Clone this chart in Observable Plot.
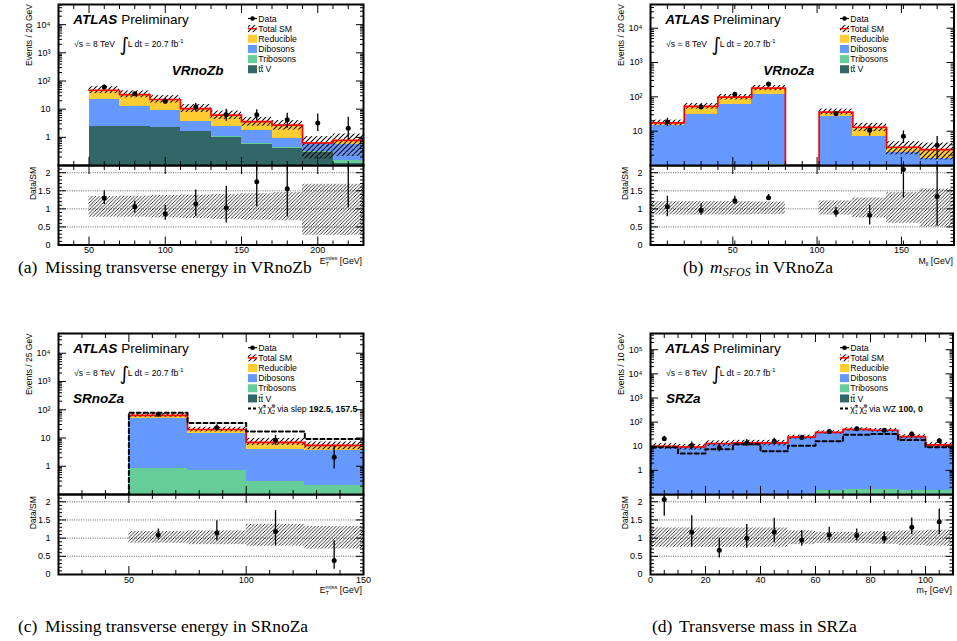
<!DOCTYPE html>
<html><head><meta charset="utf-8">
<script src="https://cdn.jsdelivr.net/npm/d3@7"></script>
<script src="https://cdn.jsdelivr.net/npm/@observablehq/plot@0.6"></script>
<style>
html,body{margin:0;padding:0;background:#fff;}
body{position:relative;width:957px;height:641px;overflow:hidden;font-family:"Liberation Sans",Arial,sans-serif;}
.pl{position:absolute;}
.pl svg{display:block;max-width:none;background:transparent;overflow:visible;}
</style></head>
<body>
<svg width="0" height="0" style="position:absolute;left:0;top:0">
<defs>
<pattern id="hatchMain" patternUnits="userSpaceOnUse" width="5" height="5"><path d="M-1,1 l2,-2 M0,5 l5,-5 M4,6 l2,-2" stroke="#000" stroke-width="1.05"/></pattern>
<pattern id="hatchRatio" patternUnits="userSpaceOnUse" width="3.5" height="3.5"><path d="M-1,1 l2,-2 M0,3.5 l3.5,-3.5 M2.5,4.5 l2,-2" stroke="#000" stroke-width="0.8"/></pattern>
</defs></svg>
<script>
// ---------------- shared ----------------
const sampleNames  = ["Reducible", "Dibosons", "Tribosons", "tt\u0304 V"];
const sampleColors = ["#ffcc33", "#6699ff", "#66cc99", "#336666"];
const ratioGrid = [0.5, 1, 1.5, 2];
const ratioMajor = [0, 0.5, 1, 1.5, 2];
const ratioLabels = [0, 0.5, 1, 1.5, 2];

// ---------------- (a) VRnoZb : ETmiss ----------------
const aEdges     = [50, 70, 90, 110, 130, 150, 170, 190, 210, 230];
const aTTV       = [2.4, 2.4, 2.2, 1.6, 1.0, 0.57, 0.4, 0.28, 0.12];
const aTribosons = [0.05, 0.05, 0.05, 0.05, 0.05, 0.05, 0.05, 0.03, 0.03];
const aDibosons  = [20.05, 10.35, 6.95, 2.05, 1.35, 1.08, 0.45, 0.27, 0.39];
const aReducible = [24.5, 20.2, 12.8, 6.8, 3.7, 1.9, 1.8, 0.05, 0.24];
const aData      = [61, 35, 19, 12, 6.3, 6.3, 4.2, 3.2, 2.1];
const aDataLo    = [52.6, 29, 15, 8.2, 3.7, 3.8, 2.1, 1.6, 0.8];
const aDataHi    = [70.5, 40, 24, 16, 9.9, 9.5, 7.2, 6.8, 5.2];
const aUncLo     = [0.77, 0.77, 0.75, 0.73, 0.71, 0.69, 0.67, 0.27, 0.27];
const aUncHi     = [1.34, 1.35, 1.37, 1.38, 1.40, 1.42, 1.45, 1.68, 1.68];
const aXMajor = [50, 100, 150, 200];
const aYLabels = [1, 10, 100, 1000, 10000];

// ---------------- (b) VRnoZa : m_SFOS ----------------
const bEdges     = [1.2, 21.2, 41.2, 61.2, 81.2, 101.2, 121.2, 141.2, 161.2, 181.2];
const bTTV       = [0.1, 0.3, 0.5, 0.8, 0, 0.3, 0.2, 0.1, 0.1];
const bTribosons = [0.05, 0.1, 0.2, 0.3, 0, 0.1, 0.05, 0.03, 0.03];
const bDibosons  = [14.35, 29.6, 58.3, 113.9, 0, 25.6, 6.95, 2.27, 1.47];
const bReducible = [3.0, 23, 39, 65, 0, 10, 5.8, 1.0, 1.3];
const bData      = [18.5, 50.8, 120, 235, null, 32.6, 10.7, 7.1, 3.9];
const bDataLo    = [13.7, 43.5, 110, 225, null, 27.7, 7.2, 4.4, 1.5];
const bDataHi    = [23.6, 60, 132, 252, null, 37.4, 14.3, 10.2, 7.0];
const bUncLo     = [0.83, 0.83, 0.83, 0.84, null, 0.83, 0.75, 0.6, 0.5];
const bUncHi     = [1.2, 1.2, 1.2, 1.19, null, 1.22, 1.3, 1.45, 1.55];
const bXMajor = [50, 100, 150];
const bYLabels = [10, 100, 1000, 10000];

// ---------------- (c) SRnoZa : ETmiss ----------------
const cEdges     = [50, 75, 100, 125, 150];
const cTTV       = [0.03, 0.03, 0.02, 0.02];
const cTribosons = [0.8, 0.7, 0.28, 0.18];
const cDibosons  = [47.2, 13.3, 3.6, 3.5];
const cReducible = [15, 6, 3.1, 1.8];
const cSignal    = [78, 34, 17, 9.2];
const cData      = [69, 23, 8.3, 2.1];
const cDataLo    = [61, 18.4, 5.5, 0.8];
const cDataHi    = [79, 29.6, 12.3, 5.1];
const cUncLo     = [0.86, 0.82, 0.78, 0.7];
const cUncHi     = [1.18, 1.2, 1.38, 1.32];
const cXMajor = [50, 100, 150];
const cYLabels = [1, 10, 100, 1000, 10000];

// ---------------- (d) SRZa : mT ----------------
const dEdges     = [0, 10, 20, 30, 40, 50, 60, 70, 80, 90, 100, 110];
const dTTV       = [0.02, 0.02, 0.02, 0.02, 0.02, 0.02, 0.02, 0.02, 0.02, 0.02, 0.02];
const dTribosons = [0.04, 0.04, 0.05, 0.05, 0.06, 0.06, 0.13, 0.14, 0.14, 0.13, 0.12];
const dDibosons  = [9.54, 8.94, 12.53, 13.23, 13.22, 23.22, 36.55, 48.54, 44.64, 24.15, 10.96];
const dReducible = [0.4, 0.3, 0.4, 0.4, 0.4, 0.7, 1.0, 1.3, 1.2, 0.7, 0.4];
const dSignal    = [9.1, 5.0, 7.5, 12, 6.2, 10.5, 16.2, 30, 32, 18, 9];
const dData      = [20.6, 10.8, 8.7, 13.7, 16, 22.8, 41, 53.5, 46, 32.5, 16.7];
const dDataLo    = [16, 7, 5.9, 9.9, 12, 18.7, 34.7, 46, 39, 27.5, 12.6];
const dDataHi    = [26, 15, 13, 18.8, 21.2, 28.8, 49, 62.5, 53, 38.8, 20.7];
const dUncLo     = [0.75, 0.75, 0.75, 0.75, 0.75, 0.82, 0.85, 0.85, 0.83, 0.8, 0.78];
const dUncHi     = [1.28, 1.28, 1.28, 1.28, 1.28, 1.2, 1.16, 1.16, 1.18, 1.2, 1.22];
const dXMajor = [0, 20, 40, 60, 80, 100];
const dYLabels = [1, 10, 100, 1000, 10000, 100000];

// ---------------- helpers ----------------
const sup = {0: "\u2070", 1: "\u00b9", 2: "\u00b2", 3: "\u00b3", 4: "\u2074", 5: "\u2075"};
const logFmt = v => { const e = Math.round(Math.log10(v)); return e === 0 ? "1" : e === 1 ? "10" : "10" + sup[e]; };
const linFmt = v => String(v);
function steps(lo, hi, s) { const out = []; for (let v = lo; v <= hi + 1e-9; v += s) out.push(+v.toFixed(6)); return out; }
function logMinor(lo, hi) {
  const out = [];
  for (let e = Math.floor(Math.log10(lo)) - 1; e <= Math.ceil(Math.log10(hi)); e++)
    for (let m = 2; m <= 9; m++) { const v = m * 10 ** e; if (v > lo && v < hi) out.push(v); }
  return out;
}
function logMajor(lo, hi) {
  const out = [];
  for (let e = Math.floor(Math.log10(lo)); e <= Math.ceil(Math.log10(hi)); e++) { const v = 10 ** e; if (v > lo * 1.0001 && v < hi) out.push(v); }
  return out;
}
function tickMarks(xMaj, xMin, yMaj, yMin, xLen, xLenMin) {
  return [
    ...["bottom", "top"].flatMap(a => [
      Plot.axisX(xMaj, {anchor: a, tickSize: -xLen, fill: "none", label: null}),
      Plot.axisX(xMin, {anchor: a, tickSize: -xLenMin, fill: "none", label: null})
    ]),
    ...["left", "right"].flatMap(a => [
      Plot.axisY(yMaj, {anchor: a, tickSize: -8, fill: "none", label: null}),
      Plot.axisY(yMin, {anchor: a, tickSize: -4, fill: "none", label: null})
    ])
  ];
}
const plotStyle = {fontFamily: '"Liberation Sans", Arial, sans-serif', fontSize: "9px", background: "transparent", overflow: "visible", color: "black"};
function place(svg, left, top) {
  const div = document.createElement("div");
  div.className = "pl"; div.style.left = left + "px"; div.style.top = top + "px";
  div.appendChild(svg); document.body.appendChild(div);
}

function buildPanel(P, F) {
  const n = P.data.length;
  const layers = [P.ttV, P.tri, P.dib, P.red]; // bottom -> top
  const layerColor = [sampleColors[3], sampleColors[2], sampleColors[1], sampleColors[0]];
  const ymin = P.yDomain[0], floor = ymin / 100;
  const bins = d3.range(n).map(i => ({
    i, x1: P.edges[i], x2: P.edges[i + 1], xc: (P.edges[i] + P.edges[i + 1]) / 2,
    total: d3.sum(layers, l => l[i]),
    data: P.data[i], lo: P.dataLo[i], hi: P.dataHi[i], uLo: P.uncLo[i], uHi: P.uncHi[i]
  }));
  const filled = bins.filter(b => b.total > 0);
  const withData = bins.filter(b => b.data != null && b.total > 0);

  const stackMarks = layers.map((l, k) => {
    const rows = bins.map(b => {
      const below = d3.sum(layers.slice(0, k), q => q[b.i]);
      return {x1: b.x1, x2: b.x2, y1: Math.max(below, floor), y2: below + l[b.i]};
    }).filter(r => r.y2 > r.y1);
    return Plot.rect(rows, {x1: "x1", x2: "x2", y1: "y1", y2: "y2", fill: layerColor[k], clip: true, shapeRendering: "crispEdges"});
  });
  const totalPts = bins.flatMap(b => [{x: b.x1, y: Math.max(b.total, ymin * 0.5)}, {x: b.x2, y: Math.max(b.total, ymin * 0.5)}]);
  const extra = [];
  if (P.signal) {
    const sp = [{x: P.edges[0], y: ymin * 0.5}].concat(bins.flatMap(b => [{x: b.x1, y: P.signal[b.i]}, {x: b.x2, y: P.signal[b.i]}]));
    extra.push(Plot.line(sp, {x: "x", y: "y", stroke: "black", strokeWidth: 2, strokeDasharray: "4,3", clip: true}));
  }
  const xMinor = steps(P.xDomain[0], P.xDomain[1], P.xMinorStep).filter(v => !P.xMajor.includes(v));
  const ml = 46, mr = 10, mt = 8;
  // ---- main plot
  const mainH = F.my1 - F.my0;
  const main = Plot.plot({
    width: F.x1 - F.x0 + ml + mr, height: mainH + mt + 4,
    marginLeft: ml, marginRight: mr, marginTop: mt, marginBottom: 4,
    style: plotStyle,
    x: {domain: P.xDomain, axis: null},
    y: {type: "log", domain: P.yDomain, axis: null},
    marks: [
      ...stackMarks,
      Plot.rect(filled, {x1: "x1", x2: "x2", y1: b => b.total * b.uLo, y2: b => b.total * b.uHi, fill: "url(#hatchMain)", clip: true}),
      Plot.line(totalPts, {x: "x", y: "y", stroke: "#ff0000", strokeWidth: 1.7, clip: true}),
      ...extra,
      Plot.ruleX(withData, {x: "xc", y1: "lo", y2: "hi", stroke: "black", strokeWidth: 1.3, clip: true}),
      Plot.dot(withData, {x: "xc", y: "data", r: 2.5, fill: "black", stroke: "none", clip: true}),
      ...tickMarks(P.xMajor, xMinor, logMajor(P.yDomain[0], P.yDomain[1]), logMinor(P.yDomain[0], P.yDomain[1]), 8, 4),
      Plot.axisY(P.yLabels, {anchor: "left", tickSize: 0, tickPadding: 8, stroke: "none", tickFormat: logFmt, label: null}),
      Plot.frame({stroke: "black", strokeWidth: 2})
    ]
  });
  // ---- ratio plot
  const ratH = F.ry1 - F.ry0;
  const ratio = Plot.plot({
    width: F.x1 - F.x0 + ml + mr, height: ratH + 4 + 20,
    marginLeft: ml, marginRight: mr, marginTop: 4, marginBottom: 20,
    style: plotStyle,
    x: {domain: P.xDomain, axis: null},
    y: {domain: [0, 2.2], axis: null},
    marks: [
      Plot.ruleY(ratioGrid, {stroke: "#555", strokeDasharray: "1,1.3", strokeWidth: 0.9}),
      Plot.rect(filled, {x1: "x1", x2: "x2", y1: "uLo", y2: "uHi", fill: "url(#hatchRatio)", clip: true}),
      Plot.ruleX(withData, {x: "xc", y1: b => b.lo / b.total, y2: b => b.hi / b.total, stroke: "black", strokeWidth: 1.3, clip: true}),
      Plot.dot(withData, {x: "xc", y: b => b.data / b.total, r: 2.5, fill: "black", stroke: "none", clip: true}),
      ...tickMarks(P.xMajor, xMinor, ratioMajor, steps(0.1, 2.2, 0.1).filter(v => !ratioMajor.includes(v)), 8, 4),
      Plot.axisY(ratioLabels, {anchor: "left", tickSize: 0, tickPadding: 8, stroke: "none", tickFormat: linFmt, label: null}),
      Plot.axisX(P.xMajor, {anchor: "bottom", tickSize: 0, tickPadding: 2, stroke: "none", tickFormat: linFmt, label: null}),
      Plot.frame({stroke: "black", strokeWidth: 2})
    ]
  });
  place(ratio, F.x0 - ml, F.ry0 - 4);
  place(main, F.x0 - ml, F.my0 - mt);
}

buildPanel({edges: aEdges, ttV: aTTV, tri: aTribosons, dib: aDibosons, red: aReducible, data: aData, dataLo: aDataLo, dataHi: aDataHi, uncLo: aUncLo, uncHi: aUncHi,
  xDomain: [30, 230], yDomain: [0.1, 5.2e4], xMajor: aXMajor, xMinorStep: 10, yLabels: aYLabels},
  {x0: 58, x1: 363, my0: 4, my1: 165, ry0: 165, ry1: 244.5});
buildPanel({edges: bEdges, ttV: bTTV, tri: bTribosons, dib: bDibosons, red: bReducible, data: bData, dataLo: bDataLo, dataHi: bDataHi, uncLo: bUncLo, uncHi: bUncHi,
  xDomain: [1.2, 181.2], yDomain: [1, 4.9e4], xMajor: bXMajor, xMinorStep: 10, yLabels: bYLabels},
  {x0: 650, x1: 953.5, my0: 4, my1: 165, ry0: 165, ry1: 244.5});
buildPanel({edges: cEdges, ttV: cTTV, tri: cTribosons, dib: cDibosons, red: cReducible, signal: cSignal, data: cData, dataLo: cDataLo, dataHi: cDataHi, uncLo: cUncLo, uncHi: cUncHi,
  xDomain: [20, 150], yDomain: [0.1, 5e4], xMajor: cXMajor, xMinorStep: 10, yLabels: cYLabels},
  {x0: 58, x1: 363, my0: 333, my1: 494, ry0: 494, ry1: 574});
buildPanel({edges: dEdges, ttV: dTTV, tri: dTribosons, dib: dDibosons, red: dReducible, signal: dSignal, data: dData, dataLo: dDataLo, dataHi: dDataHi, uncLo: dUncLo, uncHi: dUncHi,
  xDomain: [0, 110], yDomain: [0.1, 4.7e5], xMajor: dXMajor, xMinorStep: 5, yLabels: dYLabels},
  {x0: 650, x1: 952.5, my0: 333, my1: 494, ry0: 494, ry1: 574});

// ---------------- text overlay ----------------
const ov = d3.select("body").append("svg").attr("width", 957).attr("height", 641)
  .style("position", "absolute").style("left", "0px").style("top", "0px").style("pointer-events", "none")
  .attr("font-family", '"Liberation Sans", Arial, sans-serif');

function annotate(L) {
  const g = ov.append("g");
  // ATLAS Preliminary
  const at = g.append("text").attr("x", L.ox + 73.3).attr("y", L.oy + 24).attr("font-size", 13.5);
  at.append("tspan").attr("font-weight", "bold").attr("font-style", "italic").text("ATLAS");
  at.append("tspan").attr("dx", 4).text("Preliminary");
  g.append("text").attr("x", L.ox + 74).attr("y", L.oy + 46.7).attr("font-size", 8.7).text("\u221As = 8 TeV");
  g.append("text").attr("x", L.ox + 119.5).attr("y", L.oy + 50.5).attr("font-size", 19).attr("font-family", "DejaVu Sans").text("\u222B");
  const lum = g.append("text").attr("x", L.ox + 127.7).attr("y", L.oy + 46.7).attr("font-size", 8.7).text("L dt = 20.7 fb");
  lum.append("tspan").attr("font-size", 5.8).attr("dy", -3.5).text("-1");
  // region
  g.append("text").attr("x", L.rx).attr("y", L.ry).attr("font-size", 13.5).attr("font-weight", "bold").attr("font-style", "italic").text(L.region);
  // legend
  const mx0 = L.ox + L.lx, tx = mx0 + 10.3;
  L.legend.forEach((r, k) => {
    const cy = L.oy + L.ly + k * 10.15;
    if (r.type === "data") {
      g.append("line").attr("x1", mx0).attr("x2", mx0 + 9).attr("y1", cy).attr("y2", cy).attr("stroke", "black").attr("stroke-width", 1.2);
      g.append("circle").attr("cx", mx0 + 4.5).attr("cy", cy).attr("r", 2.3).attr("fill", "black");
    } else if (r.type === "total") {
      g.append("rect").attr("x", mx0).attr("y", cy - 3.5).attr("width", 9).attr("height", 7).attr("fill", "url(#hatchMain)");
      g.append("line").attr("x1", mx0).attr("x2", mx0 + 9).attr("y1", cy).attr("y2", cy).attr("stroke", "#ff0000").attr("stroke-width", 1.5);
    } else if (r.type === "fill") {
      g.append("rect").attr("x", mx0).attr("y", cy - 4).attr("width", 9).attr("height", 8).attr("fill", r.color);
    } else if (r.type === "signal") {
      g.append("line").attr("x1", mx0).attr("x2", mx0 + 9).attr("y1", cy).attr("y2", cy).attr("stroke", "black").attr("stroke-width", 2).attr("stroke-dasharray", "3,2");
    }
    const t = g.append("text").attr("x", tx).attr("y", cy + 3.1).attr("font-size", 8.7);
    if (r.type === "signal") {
      t.append("tspan").text("\u03C7\u0303");
      t.append("tspan").attr("font-size", 5.5).attr("dy", 2).text("1");
      t.append("tspan").attr("font-size", 5.5).attr("dx", -3).attr("dy", -6).text("\u00B1");
      t.append("tspan").attr("dy", 4).attr("dx", 1.5).text("\u03C7\u0303");
      t.append("tspan").attr("font-size", 5.5).attr("dy", 2).text("2");
      t.append("tspan").attr("font-size", 5.5).attr("dx", -3).attr("dy", -6).text("0");
      t.append("tspan").attr("dy", 4).attr("dx", 2).text("via " + r.via + " ");
      t.append("tspan").attr("font-weight", "bold").text(r.bold);
    } else t.text(r.label);
  });
  // y titles
  g.append("text").attr("transform", `translate(${L.ox + 32.3},${L.oy + 4}) rotate(-90)`).attr("text-anchor", "end").attr("font-size", 8.5).text(L.yTitle);
  g.append("text").attr("transform", `translate(${L.ox + 36.3},${L.oy + 167}) rotate(-90)`).attr("text-anchor", "end").attr("font-size", 8.5).text("Data/SM");
  // x title
  const xt = g.append("text").attr("x", L.xTitleX).attr("y", L.oy + 263.5).attr("text-anchor", "end").attr("font-size", 8.7);
  L.xTitle(xt);
  // caption
  const cap = g.append("text").attr("y", L.capY).attr("font-family", '"Liberation Serif", "Times New Roman", serif').attr("font-size", 17.5);
  cap.append("tspan").attr("x", L.capX).text(L.capTag);
  L.caption(cap.append("tspan").attr("x", L.capX + 27));
}

const baseLegend = [
  {type: "data", label: "Data"},
  {type: "total", label: "Total SM"},
  {type: "fill", label: sampleNames[0], color: sampleColors[0]},
  {type: "fill", label: sampleNames[1], color: sampleColors[1]},
  {type: "fill", label: sampleNames[2], color: sampleColors[2]},
  {type: "fill", label: sampleNames[3], color: sampleColors[3]}
];
const etTitle = t => {
  t.append("tspan").text("E");
  t.append("tspan").attr("font-size", 5.8).attr("dy", 2).text("T");
  t.append("tspan").attr("font-size", 5.8).attr("dx", -3.6).attr("dy", -5.5).text("miss");
  t.append("tspan").attr("dy", 3.5).text(" [GeV]");
};

annotate({ox: 0, oy: 0, rx: 171.7, ry: 75, region: "VRnoZb", lx: 248, ly: 18.5, legend: baseLegend,
  yTitle: "Events / 20 GeV", xTitleX: 362, xTitle: etTitle, capX: 18, capY: 273, capTag: "(a)",
  caption: t => t.text("Missing transverse energy in VRnoZb")});
annotate({ox: 592, oy: 0, rx: 763.3, ry: 74.5, region: "VRnoZa", lx: 248, ly: 18.5, legend: baseLegend,
  yTitle: "Events / 20 GeV", xTitleX: 953,
  xTitle: t => { t.append("tspan").text("M"); t.append("tspan").attr("font-size", 6).attr("dy", 2).text("ll"); t.append("tspan").attr("dy", -2).text(" [GeV]"); },
  capX: 683, capY: 273, capTag: "(b)",
  caption: t => { t.append("tspan").attr("font-style", "italic").text("m"); t.append("tspan").attr("font-style", "italic").attr("font-size", 12).attr("dy", 3).text("SFOS"); t.append("tspan").attr("dy", -3).text(" in VRnoZa"); }});
annotate({ox: 0, oy: 329.2, rx: 73, ry: 403.3, region: "SRnoZa", lx: 248, ly: 18.5,
  legend: baseLegend.concat([{type: "signal", via: "slep", bold: "192.5, 157.5"}]),
  yTitle: "Events / 25 GeV", xTitleX: 362, xTitle: etTitle, capX: 18, capY: 632, capTag: "(c)",
  caption: t => t.text("Missing transverse energy in SRnoZa")});
annotate({ox: 592, oy: 329.2, rx: 666, ry: 403.3, region: "SRZa", lx: 248, ly: 18.5,
  legend: baseLegend.concat([{type: "signal", via: "WZ", bold: "100, 0"}]),
  yTitle: "Events / 10 GeV", xTitleX: 952,
  xTitle: t => { t.append("tspan").text("m"); t.append("tspan").attr("font-size", 6).attr("dy", 2).text("T"); t.append("tspan").attr("dy", -2).text(" [GeV]"); },
  capX: 652, capY: 632, capTag: "(d)",
  caption: t => t.text("Transverse mass in SRZa")});
</script>
</body></html>
